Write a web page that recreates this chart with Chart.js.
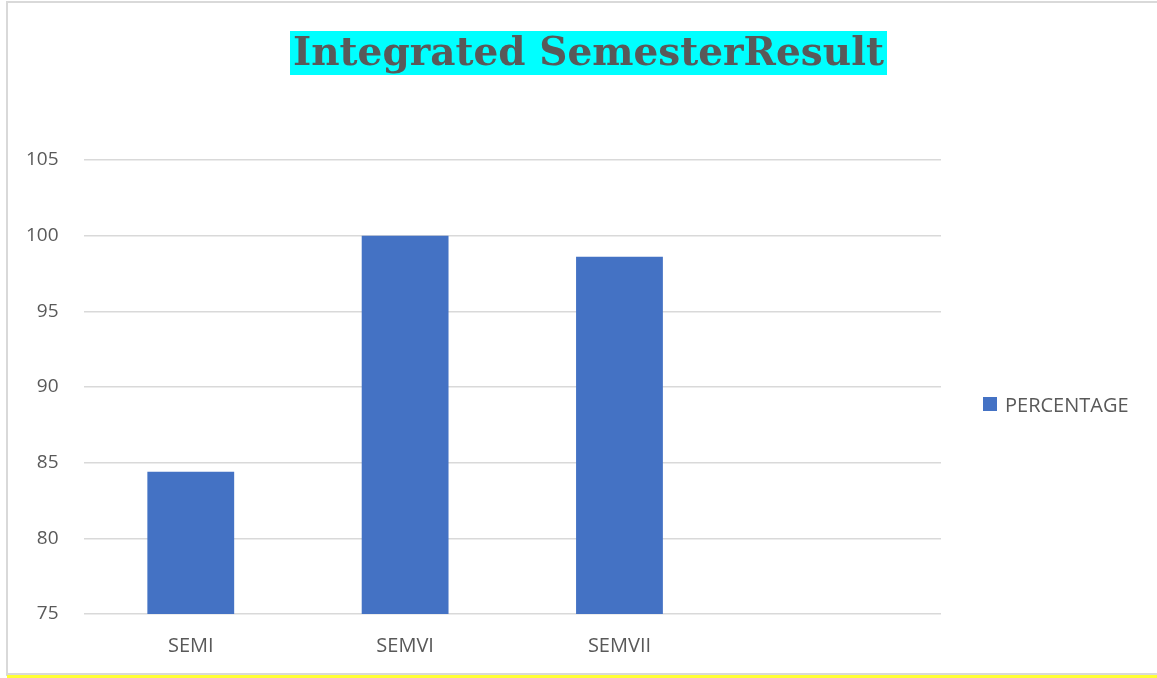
<!DOCTYPE html>
<html>
<head>
<meta charset="utf-8">
<script src="https://cdn.jsdelivr.net/npm/chart.js@4"></script>
<style>
  html, body { margin: 0; padding: 0; background: #ffffff; }
  #wrap { position: relative; width: 1157px; height: 678px; overflow: hidden; }
  #chart { position: absolute; left: 0; top: 0; }
  #title {
    position: absolute; left: 290px; top: 31px; width: 597px; height: 44px;
    background: #00ffff;
  }
  #title span {
    position: absolute; left: 0; top: 0; white-space: nowrap;
    font-family: "DejaVu Serif", serif; font-weight: bold; font-size: 40px;
    line-height: 44px; color: #595959; transform-origin: 0 0;
  }
  #legend {
    position: absolute; left: 983px; top: 392px; height: 24px;
    font-family: "Open Sans", sans-serif; font-size: 20px; color: #595959;
    display: flex; align-items: center; white-space: nowrap;
  }
  #legend i { display: inline-block; width: 14px; height: 14px; background: #4472c4; margin-right: 8px; }
</style>
</head>
<body>
<div id="wrap">
  <canvas id="chart" width="1157" height="678"></canvas>
  <div id="title"><span id="titleText">Integrated SemesterResult</span></div>
  <div id="legend"><i></i><span id="legendText">PERCENTAGE</span></div>
</div>
<script>
const categories = ["SEMI", "SEMVI", "SEMVII", ""];
const seriesName = "PERCENTAGE";
const percentage = [84.4, 100, 98.6, null];
const yTicks = { min: 75, max: 105, step: 5 };

document.getElementById('legendText').textContent = seriesName;

// fit title text width to the highlighted box
(function () {
  const t = document.getElementById('titleText');
  const w = t.getBoundingClientRect().width;
  const target = 591;
  t.style.transform = 'translate(3px, -2px) scaleX(' + (target / w) + ')';
})();

const framePlugin = {
  id: 'frame',
  beforeDraw(chart) {
    const c = chart.ctx;
    c.save();
    c.fillStyle = '#ffffff';
    c.fillRect(0, 0, chart.width, chart.height);
    c.fillStyle = '#d9d9d9';
    c.fillRect(6, 1, chart.width - 6, 2);
    c.fillRect(6, 1, 2, 675);
    c.fillRect(6, 673, chart.width - 6, 2);
    c.fillStyle = '#ffff33';
    c.fillRect(7, 675, chart.width - 7, 3);
    c.restore();
  }
};

new Chart(document.getElementById('chart'), {
  type: 'bar',
  data: {
    labels: categories,
    datasets: [{
      label: seriesName,
      data: percentage,
      backgroundColor: '#4472c4',
      borderWidth: 0,
      categoryPercentage: 1.0,
      barPercentage: 0.405
    }]
  },
  options: {
    responsive: false,
    devicePixelRatio: 1,
    animation: false,
    layout: { padding: { top: 160, left: 1, right: 216, bottom: 0 } },
    plugins: {
      legend: { display: false },
      title: { display: false },
      tooltip: { enabled: false }
    },
    scales: {
      x: {
        grid: { display: false, drawTicks: false },
        border: { display: false },
        ticks: { color: '#595959', font: { family: 'Open Sans', size: 20 }, padding: 20, maxRotation: 0 }
      },
      y: {
        min: yTicks.min, max: yTicks.max,
        grid: { color: '#d9d9d9', lineWidth: 1.5, drawTicks: false },
        border: { display: false },
        ticks: { stepSize: yTicks.step, color: '#595959', font: { family: 'Open Sans', size: 19 }, padding: 25 }
      }
    }
  },
  plugins: [framePlugin]
});
</script>
</body>
</html>
